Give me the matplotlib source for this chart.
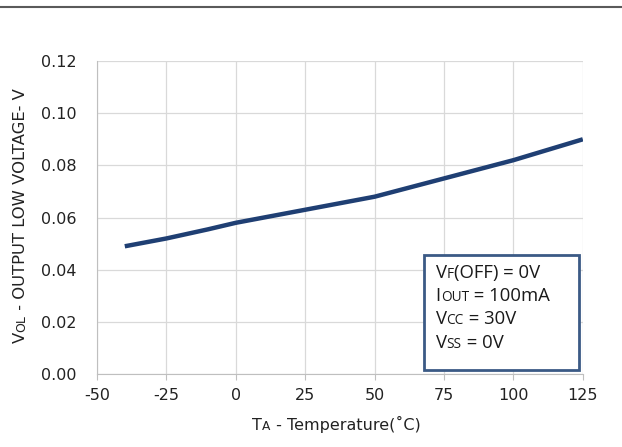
import matplotlib
matplotlib.use("Agg")
import matplotlib.pyplot as plt
from matplotlib.patches import Rectangle
from matplotlib.lines import Line2D

plt.rcParams["axes.unicode_minus"] = False

# curve
temps = [-40, -25, -10, 0, 25, 50, 75, 100, 125]
vol = [0.049, 0.052, 0.0555, 0.058, 0.063, 0.068, 0.075, 0.082, 0.090]

xticks = [-50, -25, 0, 25, 50, 75, 100, 125]
yticks = [0.00, 0.02, 0.04, 0.06, 0.08, 0.10, 0.12]

# condition box lines: (big, small, rest)
cond_lines = [("V", "F", "(OFF) = 0V"),
              ("I", "OUT", " = 100mA"),
              ("V", "CC", " = 30V"),
              ("V", "SS", " = 0V")]

fig = plt.figure(figsize=(6.22, 4.47), dpi=100)
ax = fig.add_axes([0.156, 0.163, 0.781, 0.7005])

ax.plot(temps, vol, color="#1f3f73", lw=3.2, solid_capstyle="butt")
ax.set_xlim(-50, 125)
ax.set_ylim(0, 0.12)
ax.set_xticks(xticks)
ax.set_yticks(yticks)
ax.set_yticklabels([f"{v:.2f}" for v in yticks])
ax.grid(True, color="#d9d9d9", lw=0.9)
ax.set_axisbelow(True)
for s in ["top", "right"]:
    ax.spines[s].set_visible(False)
for s in ["left", "bottom"]:
    ax.spines[s].set_color("#bfbfbf")
ax.tick_params(axis="both", colors="#bfbfbf", length=4, labelcolor="#222222",
               labelsize=11.5)
ax.tick_params(axis="y", length=0, pad=15)
ax.tick_params(axis="x", pad=6)
for t in ax.get_xticklabels() + ax.get_yticklabels():
    t.set_family("DejaVu Sans")

# top rule
fig.add_artist(Line2D([0, 1], [0.984, 0.984], color="#5a5a5a", lw=1.5))

renderer = fig.canvas.get_renderer()


def rich(pieces, xy, rotation=0, family="DejaVu Sans", color="#222222", zorder=3):
    # draw text pieces of different sizes one after another on a common baseline
    off = 0.0
    for txt, size in pieces:
        if rotation == 0:
            t = ax.annotate(txt, xy, xycoords="axes fraction", xytext=(off, 0),
                            textcoords="offset points", fontsize=size,
                            family=family, color=color, ha="left", va="baseline",
                            annotation_clip=False, zorder=zorder)
            w = t.get_window_extent(renderer).width
        else:
            t = ax.annotate(txt, xy, xycoords="axes fraction", xytext=(0, off),
                            textcoords="offset points", fontsize=size,
                            family=family, color=color, ha="left", va="baseline",
                            rotation=90, rotation_mode="anchor",
                            annotation_clip=False, zorder=zorder)
            w = t.get_window_extent(renderer).height
        off += w * 72.0 / fig.dpi


# axis labels with small-cap style subscripts
rich([("V", 11.8), ("OL", 9), (" - OUTPUT LOW VOLTAGE- V", 11.8)],
     (-0.148, 0.098), rotation=90)
rich([("T", 11.5), ("A", 8.8), (" - Temperature(˚C)", 11.5)], (0.32, -0.178))

# condition box
ax.add_patch(Rectangle((0.673, 0.013), 0.319, 0.367, transform=ax.transAxes,
                       facecolor="white", edgecolor="#3b5a85", lw=2, zorder=5,
                       clip_on=False))
for i, (a, b, c) in enumerate(cond_lines):
    y = 0.307 - i * 0.074
    rich([(a, 13.3), (b, 9.8), (c, 13.3)], (0.697, y), family="Open Sans",
         color="#1a1a1a", zorder=6)

fig.savefig("out.png", dpi=100)
